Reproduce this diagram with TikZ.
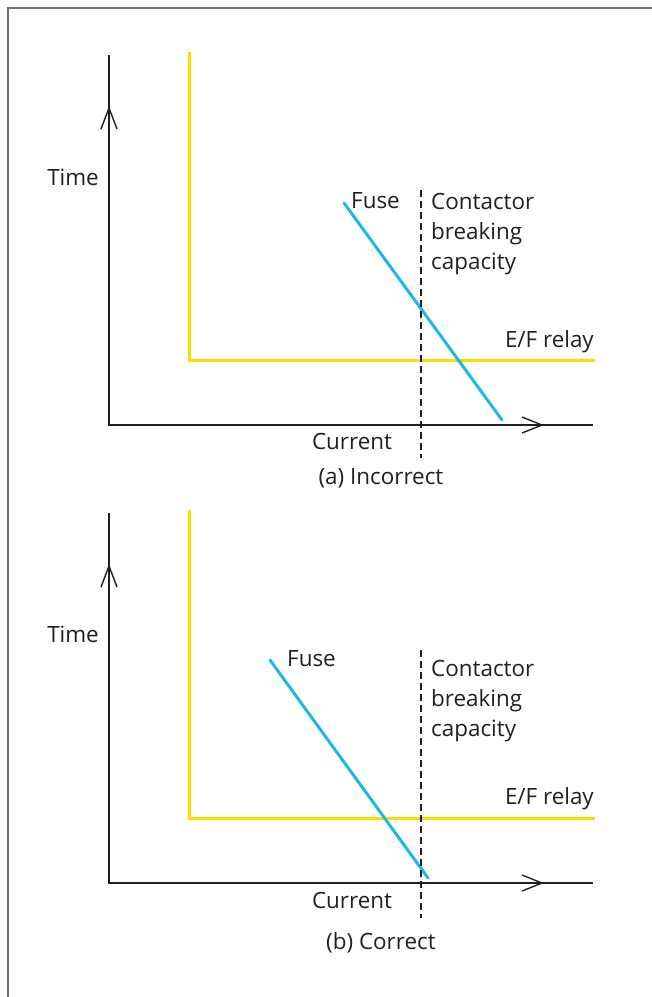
\documentclass[tikz,border=0pt]{standalone}
\usepackage{fontspec}
\setmainfont{Open Sans}
\definecolor{fuseblue}{HTML}{1DB8E8}
\definecolor{relayyellow}{HTML}{FFDC00}
\definecolor{axisgray}{HTML}{231F20}
\definecolor{framegray}{HTML}{707070}
\begin{document}
\begin{tikzpicture}[x=1bp,y=-1bp,
  axis/.style={draw=axisgray,line width=1.4bp},
  tip/.style={draw=axisgray,line width=1.4bp},
  relay/.style={draw=relayyellow,line width=3bp},
  fuse/.style={draw=fuseblue,line width=3bp},
  limit/.style={draw=axisgray,line width=1.2bp,dash pattern=on 7bp off 4bp},
  lbl/.style={font=\fontsize{22.5}{30}\selectfont,text=axisgray,inner sep=0pt},
  lblL/.style={lbl,anchor=west,align=left}]
\useasboundingbox (0,0) rectangle (652,997);
\draw[draw=framegray,line width=2.6bp] (8,997) -- (8,8) -- (652,8);

% ---------- panel (a)
\coordinate (aytop) at (109,55);
\coordinate (aorig) at (109,425);
\coordinate (axend) at (593,425);
\draw[axis] (aytop) -- (aorig) -- (axend);
\draw[tip] (101,129) -- (109,108) -- (117,129);
\draw[tip] (522,417) -- (542,425) -- (522,433);
\coordinate (arTop) at (189,52);
\coordinate (arCorner) at (189,360);
\coordinate (arEnd) at (595,360);
\draw[relay] (arTop) -- (arCorner) -- (arEnd);
\coordinate (afA) at (344,203);
\coordinate (afB) at (502,420);
\draw[fuse,line cap=round] (afA) -- (afB);
\coordinate (adA) at (421,190);
\coordinate (adB) at (421,458);
\draw[limit] (adA) -- (adB);
\node[lbl] (atime) at (73,177) {Time};
\node[lbl,anchor=west] (afuse) at (351,201) {Fuse};
\node[lblL,anchor=north west] (acont) at (431,193) {Contactor\\breaking\\capacity};
\node[lbl,anchor=east] (arelay) at (594,342) {E/F relay};
\node[lbl] (acur) at (352,441) {Current};
\node[lbl] (acap) at (381,478) {(a) Incorrect};

% ---------- panel (b)
\coordinate (bytop) at (109,513);
\coordinate (borig) at (109,883);
\coordinate (bxend) at (593,883);
\draw[axis] (bytop) -- (borig) -- (bxend);
\draw[tip] (101,587) -- (109,566) -- (117,587);
\draw[tip] (522,875) -- (542,883) -- (522,891);
\coordinate (brTop) at (189,510);
\coordinate (brCorner) at (189,818);
\coordinate (brEnd) at (595,818);
\draw[relay] (brTop) -- (brCorner) -- (brEnd);
\coordinate (bfA) at (270,660);
\coordinate (bfB) at (428,878);
\draw[fuse,line cap=round] (bfA) -- (bfB);
\coordinate (bdA) at (421,650);
\coordinate (bdB) at (421,918);
\draw[limit] (bdA) -- (bdB);
\node[lbl] (btime) at (73,634) {Time};
\node[lbl,anchor=west] (bfuse) at (287,659) {Fuse};
\node[lblL,anchor=north west] (bcont) at (431,660) {Contactor\\breaking\\capacity};
\node[lbl,anchor=east] (brelay) at (594,799) {E/F relay};
\node[lbl] (bcur) at (352,900) {Current};
\node[lbl] (bcap) at (381,943) {(b) Correct};
\end{tikzpicture}
\end{document}
